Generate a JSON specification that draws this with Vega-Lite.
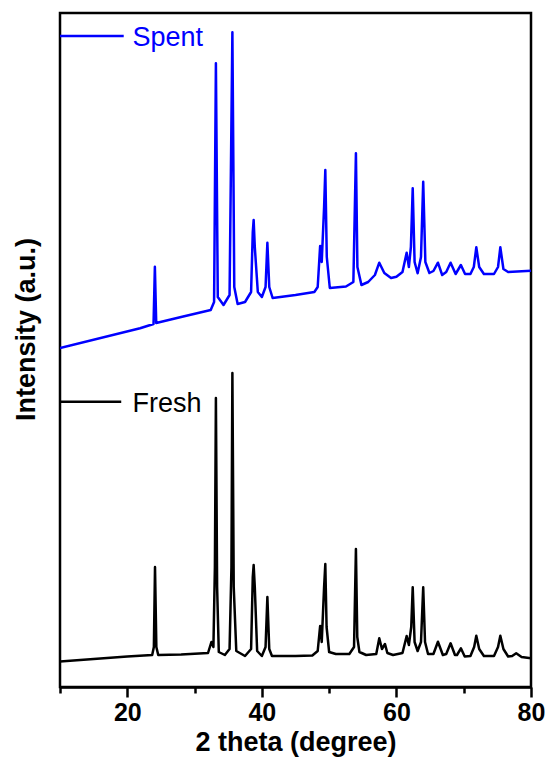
{
  "$schema": "https://vega.github.io/schema/vega-lite/v6.json",
  "width": 471,
  "height": 674,
  "autosize": "none",
  "padding": {"left": 60, "top": 13, "right": 18, "bottom": 80},
  "background": "white",
  "config": {"view": {"stroke": "black", "strokeWidth": 2.5}, "font": "Liberation Sans"},
  "datasets": {
    "xrd": [
      {"sample": "Fresh", "theta": 10.0, "intensity": 25.5},
      {"sample": "Fresh", "theta": 15.0, "intensity": 28},
      {"sample": "Fresh", "theta": 20.0, "intensity": 30.5},
      {"sample": "Fresh", "theta": 23.7, "intensity": 32},
      {"sample": "Fresh", "theta": 23.95, "intensity": 40},
      {"sample": "Fresh", "theta": 24.12, "intensity": 120},
      {"sample": "Fresh", "theta": 24.32, "intensity": 40},
      {"sample": "Fresh", "theta": 24.6, "intensity": 32},
      {"sample": "Fresh", "theta": 28.0, "intensity": 32.5},
      {"sample": "Fresh", "theta": 32.0, "intensity": 34},
      {"sample": "Fresh", "theta": 32.5, "intensity": 45},
      {"sample": "Fresh", "theta": 32.8, "intensity": 40},
      {"sample": "Fresh", "theta": 33.02, "intensity": 120},
      {"sample": "Fresh", "theta": 33.17, "intensity": 289},
      {"sample": "Fresh", "theta": 33.35, "intensity": 100},
      {"sample": "Fresh", "theta": 33.6, "intensity": 35},
      {"sample": "Fresh", "theta": 34.5, "intensity": 32},
      {"sample": "Fresh", "theta": 35.2, "intensity": 38},
      {"sample": "Fresh", "theta": 35.48, "intensity": 120},
      {"sample": "Fresh", "theta": 35.62, "intensity": 314},
      {"sample": "Fresh", "theta": 35.82, "intensity": 100},
      {"sample": "Fresh", "theta": 36.2, "intensity": 36},
      {"sample": "Fresh", "theta": 37.5, "intensity": 31},
      {"sample": "Fresh", "theta": 38.4, "intensity": 38},
      {"sample": "Fresh", "theta": 38.65, "intensity": 110},
      {"sample": "Fresh", "theta": 38.78, "intensity": 122},
      {"sample": "Fresh", "theta": 38.95, "intensity": 100},
      {"sample": "Fresh", "theta": 39.3, "intensity": 36},
      {"sample": "Fresh", "theta": 40.0, "intensity": 31},
      {"sample": "Fresh", "theta": 40.55, "intensity": 40},
      {"sample": "Fresh", "theta": 40.82, "intensity": 90},
      {"sample": "Fresh", "theta": 41.1, "intensity": 38},
      {"sample": "Fresh", "theta": 41.5, "intensity": 31},
      {"sample": "Fresh", "theta": 45.0, "intensity": 31},
      {"sample": "Fresh", "theta": 47.5, "intensity": 31.5},
      {"sample": "Fresh", "theta": 48.3, "intensity": 36},
      {"sample": "Fresh", "theta": 48.66, "intensity": 61},
      {"sample": "Fresh", "theta": 48.9, "intensity": 45},
      {"sample": "Fresh", "theta": 49.25, "intensity": 100},
      {"sample": "Fresh", "theta": 49.43, "intensity": 123},
      {"sample": "Fresh", "theta": 49.62, "intensity": 60},
      {"sample": "Fresh", "theta": 50.0, "intensity": 35},
      {"sample": "Fresh", "theta": 51.0, "intensity": 33},
      {"sample": "Fresh", "theta": 53.0, "intensity": 33},
      {"sample": "Fresh", "theta": 53.7, "intensity": 40},
      {"sample": "Fresh", "theta": 53.98, "intensity": 138},
      {"sample": "Fresh", "theta": 54.18, "intensity": 50},
      {"sample": "Fresh", "theta": 54.5, "intensity": 35},
      {"sample": "Fresh", "theta": 55.5, "intensity": 32},
      {"sample": "Fresh", "theta": 57.0, "intensity": 33},
      {"sample": "Fresh", "theta": 57.45, "intensity": 48.7},
      {"sample": "Fresh", "theta": 57.85, "intensity": 38},
      {"sample": "Fresh", "theta": 58.3, "intensity": 43},
      {"sample": "Fresh", "theta": 58.65, "intensity": 34},
      {"sample": "Fresh", "theta": 59.5, "intensity": 32},
      {"sample": "Fresh", "theta": 60.9, "intensity": 34},
      {"sample": "Fresh", "theta": 61.52, "intensity": 51},
      {"sample": "Fresh", "theta": 61.85, "intensity": 42},
      {"sample": "Fresh", "theta": 62.2, "intensity": 60},
      {"sample": "Fresh", "theta": 62.42, "intensity": 99.7},
      {"sample": "Fresh", "theta": 62.7, "intensity": 45},
      {"sample": "Fresh", "theta": 63.15, "intensity": 36},
      {"sample": "Fresh", "theta": 63.65, "intensity": 45},
      {"sample": "Fresh", "theta": 63.98, "intensity": 99.7},
      {"sample": "Fresh", "theta": 64.25, "intensity": 45},
      {"sample": "Fresh", "theta": 64.7, "intensity": 33},
      {"sample": "Fresh", "theta": 65.5, "intensity": 33},
      {"sample": "Fresh", "theta": 66.17, "intensity": 45.3},
      {"sample": "Fresh", "theta": 66.9, "intensity": 32},
      {"sample": "Fresh", "theta": 67.4, "intensity": 33},
      {"sample": "Fresh", "theta": 68.05, "intensity": 43.7},
      {"sample": "Fresh", "theta": 68.7, "intensity": 32},
      {"sample": "Fresh", "theta": 69.0, "intensity": 32},
      {"sample": "Fresh", "theta": 69.58, "intensity": 38.7},
      {"sample": "Fresh", "theta": 70.15, "intensity": 30.5},
      {"sample": "Fresh", "theta": 71.0, "intensity": 31},
      {"sample": "Fresh", "theta": 71.55, "intensity": 40},
      {"sample": "Fresh", "theta": 71.87, "intensity": 51.3},
      {"sample": "Fresh", "theta": 72.3, "intensity": 38},
      {"sample": "Fresh", "theta": 73.0, "intensity": 31},
      {"sample": "Fresh", "theta": 74.5, "intensity": 31},
      {"sample": "Fresh", "theta": 75.1, "intensity": 40},
      {"sample": "Fresh", "theta": 75.44, "intensity": 51.3},
      {"sample": "Fresh", "theta": 75.9, "intensity": 38},
      {"sample": "Fresh", "theta": 76.6, "intensity": 30.5},
      {"sample": "Fresh", "theta": 77.2, "intensity": 31},
      {"sample": "Fresh", "theta": 77.8, "intensity": 33.7},
      {"sample": "Fresh", "theta": 78.6, "intensity": 30},
      {"sample": "Fresh", "theta": 80.0, "intensity": 28.7},

      {"sample": "Spent", "theta": 10.0, "intensity": 339},
      {"sample": "Spent", "theta": 21.9, "intensity": 358.7},
      {"sample": "Spent", "theta": 23.9, "intensity": 363},
      {"sample": "Spent", "theta": 24.1, "intensity": 420.3},
      {"sample": "Spent", "theta": 24.3, "intensity": 364},
      {"sample": "Spent", "theta": 28.0, "intensity": 370},
      {"sample": "Spent", "theta": 32.4, "intensity": 377},
      {"sample": "Spent", "theta": 32.9, "intensity": 385},
      {"sample": "Spent", "theta": 33.17, "intensity": 623.7},
      {"sample": "Spent", "theta": 33.45, "intensity": 390},
      {"sample": "Spent", "theta": 34.3, "intensity": 382},
      {"sample": "Spent", "theta": 35.2, "intensity": 392},
      {"sample": "Spent", "theta": 35.62, "intensity": 654.7},
      {"sample": "Spent", "theta": 35.9, "intensity": 400},
      {"sample": "Spent", "theta": 36.4, "intensity": 383},
      {"sample": "Spent", "theta": 37.5, "intensity": 385},
      {"sample": "Spent", "theta": 38.4, "intensity": 395},
      {"sample": "Spent", "theta": 38.65, "intensity": 455},
      {"sample": "Spent", "theta": 38.78, "intensity": 467},
      {"sample": "Spent", "theta": 38.95, "intensity": 440},
      {"sample": "Spent", "theta": 39.4, "intensity": 395},
      {"sample": "Spent", "theta": 40.0, "intensity": 390},
      {"sample": "Spent", "theta": 40.55, "intensity": 400},
      {"sample": "Spent", "theta": 40.82, "intensity": 444.3},
      {"sample": "Spent", "theta": 41.1, "intensity": 400},
      {"sample": "Spent", "theta": 41.6, "intensity": 389},
      {"sample": "Spent", "theta": 45.0, "intensity": 392},
      {"sample": "Spent", "theta": 47.8, "intensity": 395},
      {"sample": "Spent", "theta": 48.3, "intensity": 400},
      {"sample": "Spent", "theta": 48.66, "intensity": 441},
      {"sample": "Spent", "theta": 48.9, "intensity": 425},
      {"sample": "Spent", "theta": 49.25, "intensity": 480},
      {"sample": "Spent", "theta": 49.43, "intensity": 517},
      {"sample": "Spent", "theta": 49.65, "intensity": 430},
      {"sample": "Spent", "theta": 50.1, "intensity": 399},
      {"sample": "Spent", "theta": 52.5, "intensity": 400.5},
      {"sample": "Spent", "theta": 53.6, "intensity": 405},
      {"sample": "Spent", "theta": 53.98, "intensity": 533.7},
      {"sample": "Spent", "theta": 54.2, "intensity": 420},
      {"sample": "Spent", "theta": 54.8, "intensity": 402},
      {"sample": "Spent", "theta": 55.8, "intensity": 405},
      {"sample": "Spent", "theta": 56.8, "intensity": 412},
      {"sample": "Spent", "theta": 57.45, "intensity": 424.3},
      {"sample": "Spent", "theta": 58.2, "intensity": 414},
      {"sample": "Spent", "theta": 59.2, "intensity": 409},
      {"sample": "Spent", "theta": 60.0, "intensity": 410.3},
      {"sample": "Spent", "theta": 60.9, "intensity": 415},
      {"sample": "Spent", "theta": 61.52, "intensity": 434.3},
      {"sample": "Spent", "theta": 61.85, "intensity": 420},
      {"sample": "Spent", "theta": 62.15, "intensity": 440},
      {"sample": "Spent", "theta": 62.42, "intensity": 498.7},
      {"sample": "Spent", "theta": 62.7, "intensity": 425},
      {"sample": "Spent", "theta": 63.15, "intensity": 413.7},
      {"sample": "Spent", "theta": 63.65, "intensity": 430},
      {"sample": "Spent", "theta": 63.98, "intensity": 505.3},
      {"sample": "Spent", "theta": 64.3, "intensity": 425},
      {"sample": "Spent", "theta": 64.9, "intensity": 414},
      {"sample": "Spent", "theta": 65.5, "intensity": 416},
      {"sample": "Spent", "theta": 66.17, "intensity": 424.3},
      {"sample": "Spent", "theta": 66.8, "intensity": 412},
      {"sample": "Spent", "theta": 67.4, "intensity": 415},
      {"sample": "Spent", "theta": 68.05, "intensity": 424.3},
      {"sample": "Spent", "theta": 68.8, "intensity": 413},
      {"sample": "Spent", "theta": 69.58, "intensity": 422},
      {"sample": "Spent", "theta": 70.2, "intensity": 413},
      {"sample": "Spent", "theta": 71.0, "intensity": 413},
      {"sample": "Spent", "theta": 71.5, "intensity": 420},
      {"sample": "Spent", "theta": 71.87, "intensity": 439.7},
      {"sample": "Spent", "theta": 72.3, "intensity": 420},
      {"sample": "Spent", "theta": 73.0, "intensity": 413},
      {"sample": "Spent", "theta": 74.5, "intensity": 413},
      {"sample": "Spent", "theta": 75.1, "intensity": 420},
      {"sample": "Spent", "theta": 75.44, "intensity": 439.7},
      {"sample": "Spent", "theta": 75.9, "intensity": 418},
      {"sample": "Spent", "theta": 76.6, "intensity": 415},
      {"sample": "Spent", "theta": 80.0, "intensity": 416.3}
    ]
  },
  "layer": [
    {
      "data": {"name": "xrd"},
      "mark": {"type": "line", "strokeWidth": 2.5, "strokeJoin": "round", "clip": true},
      "encoding": {
        "x": {
          "field": "theta", "type": "quantitative",
          "scale": {"domain": [10, 80], "nice": false, "zero": false},
          "axis": {
            "title": "2 theta (degree)",
            "values": [10, 20, 30, 40, 50, 60, 70, 80],
            "labelExpr": "datum.value % 20 == 0 ? datum.label : ''",
            "grid": false,
            "domainColor": "black", "domainWidth": 2.5,
            "tickColor": "black", "tickWidth": 2.5,
            "tickSize": {"condition": {"test": "datum.value % 20 == 0", "value": 10}, "value": 6},
            "labelFont": "Liberation Sans", "labelFontSize": 25, "labelFontWeight": "bold",
            "labelColor": "black", "labelPadding": 3, "labelFlush": false,
            "titleFont": "Liberation Sans", "titleFontSize": 27, "titleFontWeight": "bold",
            "titleColor": "black", "titlePadding": 4
          }
        },
        "y": {
          "field": "intensity", "type": "quantitative",
          "scale": {"domain": [0, 674], "nice": false},
          "axis": {
            "title": "Intensity (a.u.)",
            "ticks": false, "labels": false, "domain": false, "grid": false,
            "titleFont": "Liberation Sans", "titleFontSize": 27, "titleFontWeight": "bold",
            "titleColor": "black", "titleAngle": 270, "titleAlign": "center", "titleBaseline": "middle",
            "titleX": -34, "titleY": 316
          }
        },
        "color": {
          "field": "sample", "type": "nominal",
          "scale": {"domain": ["Fresh", "Spent"], "range": ["#000000", "#0000ff"]},
          "legend": null
        }
      }
    },
    {
      "data": {"values": [{}]},
      "mark": {"type": "rule", "color": "#0000ff", "strokeWidth": 2.5},
      "encoding": {"x": {"datum": 10}, "x2": {"datum": 19.47}, "y": {"datum": 651}}
    },
    {
      "data": {"values": [{}]},
      "mark": {"type": "text", "text": "Spent", "color": "#0000ff", "font": "Liberation Sans", "fontSize": 27, "align": "left", "baseline": "alphabetic"},
      "encoding": {"x": {"datum": 20.76}, "y": {"datum": 641}}
    },
    {
      "data": {"values": [{}]},
      "mark": {"type": "rule", "color": "#000000", "strokeWidth": 2.5},
      "encoding": {"x": {"datum": 10}, "x2": {"datum": 19.1}, "y": {"datum": 285.3}}
    },
    {
      "data": {"values": [{}]},
      "mark": {"type": "text", "text": "Fresh", "color": "#000000", "font": "Liberation Sans", "fontSize": 27, "align": "left", "baseline": "alphabetic"},
      "encoding": {"x": {"datum": 20.76}, "y": {"datum": 275}}
    }
  ]
}
